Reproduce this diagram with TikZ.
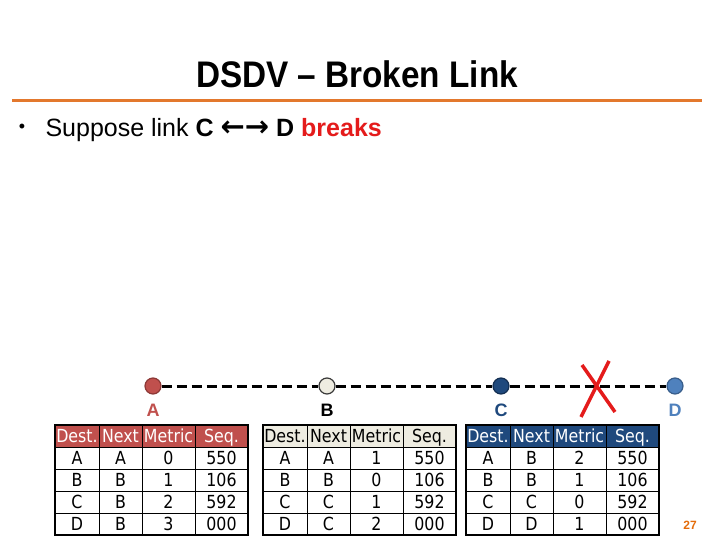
\documentclass[tikz,border=0pt]{standalone}
\usepackage{fontspec}
\setmainfont{Liberation Sans}
\newfontfamily\titlefont[FakeStretch=0.9]{Liberation Sans}
\newfontfamily\tabfont[FakeStretch=0.88]{DejaVu Sans}
\newfontfamily\symfont{DejaVu Sans}
\definecolor{rulecol}{HTML}{E3782D}
\definecolor{pgnum}{HTML}{E46C0A}
\definecolor{alarm}{HTML}{E41B1B}
\definecolor{nodeA}{HTML}{C0504D}
\definecolor{nodeAd}{HTML}{8C3836}
\definecolor{nodeB}{HTML}{EEECE1}
\definecolor{nodeBd}{HTML}{3A3A3A}
\definecolor{nodeC}{HTML}{1F497D}
\definecolor{nodeCd}{HTML}{142F52}
\definecolor{nodeD}{HTML}{4F81BD}
\definecolor{nodeDd}{HTML}{385D8A}

\begin{document}
\begin{tikzpicture}[
    x=1pt, y=-1pt,
    station/.style={circle, minimum size=16pt, inner sep=0pt, line width=1.2pt},
    stlabel/.style={font=\fontsize{18}{18}\selectfont\bfseries},
    cell/.style={font=\tabfont\fontsize{18}{18}\selectfont,
      text height=12.5pt, text depth=0pt, inner sep=0pt},
    gridline/.style={line width=0.8pt},
    frame/.style={line width=1.8pt},
    link/.style={line width=3pt, dash pattern=on 10pt off 5pt},
    cross/.style={alarm, line width=3.5pt},
  ]

  \useasboundingbox (0,0) rectangle (720,540);

  % === Title ===
  \node[font=\titlefont\fontsize{37}{37}\selectfont\bfseries] (title) at (357,74)
    {DSDV – Broken Link};
  \draw[rulecol, line width=3pt] (12,101) -- (702,101);

  % Bullet
  \node[font=\fontsize{18}{18}\selectfont] (dot) at (22,128) {•};
  \node[anchor=base west, font=\fontsize{25}{25}\selectfont] (point) at (42,137)
    {Suppose link \textbf{C} {\symfont\bfseries\fontsize{29}{29}\selectfont ←→}
     \textbf{D} \textcolor{alarm}{\textbf{breaks}}};

  % === Stations ===
  \node[station, fill=nodeA, draw=nodeAd] (A) at (153,386) {};
  \node[station, fill=nodeB, draw=nodeBd] (B) at (327,386) {};
  \node[station, fill=nodeC, draw=nodeCd] (C) at (501,386) {};
  \node[station, fill=nodeD, draw=nodeDd] (D) at (675,386) {};

  \node[stlabel, text=nodeA] (labA) at (153,410) {A};
  \node[stlabel] (labB) at (327,410) {B};
  \node[stlabel, text=nodeC] (labC) at (501,410) {C};
  \node[stlabel, text=nodeD] (labD) at (675,410) {D};

  % Links
  \draw[link] (A) -- (B);
  \draw[link] (B) -- (C);
  \draw[link] (C) -- (D);

  % Broken link mark
  \coordinate (brk) at (596,387);
  \draw[cross] ([shift={(-14,-22)}]brk) -- ([shift={(19,25)}]brk);
  \draw[cross] ([shift={(13,-26)}]brk) -- ([shift={(-15,30)}]brk);

  % === Routing tables ===
  \foreach \tx/\tn/\hf/\hc/\rows in {
      55/A/nodeA/white/{A/A/0/550,B/B/1/106,C/B/2/592,D/B/3/000},
      263/B/nodeB/black/{A/A/1/550,B/B/0/106,C/C/1/592,D/C/2/000},
      466/C/nodeC/white/{A/B/2/550,B/B/1/106,C/C/0/592,D/D/1/000}} {
    \fill[\hf] (\tx,425) rectangle ++(193,22);
    \foreach \yy in {447,469,491,513}
      \draw[gridline] (\tx,\yy) -- ++(193,0);
    \foreach \xx in {44,87,140}
      \draw[gridline] (\tx+\xx,425) -- ++(0,110);
    \draw[frame] (\tx,425) rectangle ++(193,110);
    \foreach \hd/\cx [count=\ci] in {Dest./22,Next/65.5,Metric/113.5,Seq./166.5}
      \node[cell, text=\hc] (h\tn\ci) at (\tx+\cx,436) {\hd};
    \foreach \dst/\nxt/\met/\sq [count=\ri] in \rows {
      \pgfmathsetmacro\cy{436+22*\ri}
      \node[cell] (t\tn\ri a) at (\tx+22,\cy) {\dst};
      \node[cell] (t\tn\ri b) at (\tx+65.5,\cy) {\nxt};
      \node[cell] (t\tn\ri c) at (\tx+113.5,\cy) {\met};
      \node[cell] (t\tn\ri d) at (\tx+166.5,\cy) {\sq};
    }
  }

  % Page number
  \node[font=\fontsize{12}{12}\selectfont\bfseries, text=pgnum] (page) at (690,525) {27};

\end{tikzpicture}
\end{document}
